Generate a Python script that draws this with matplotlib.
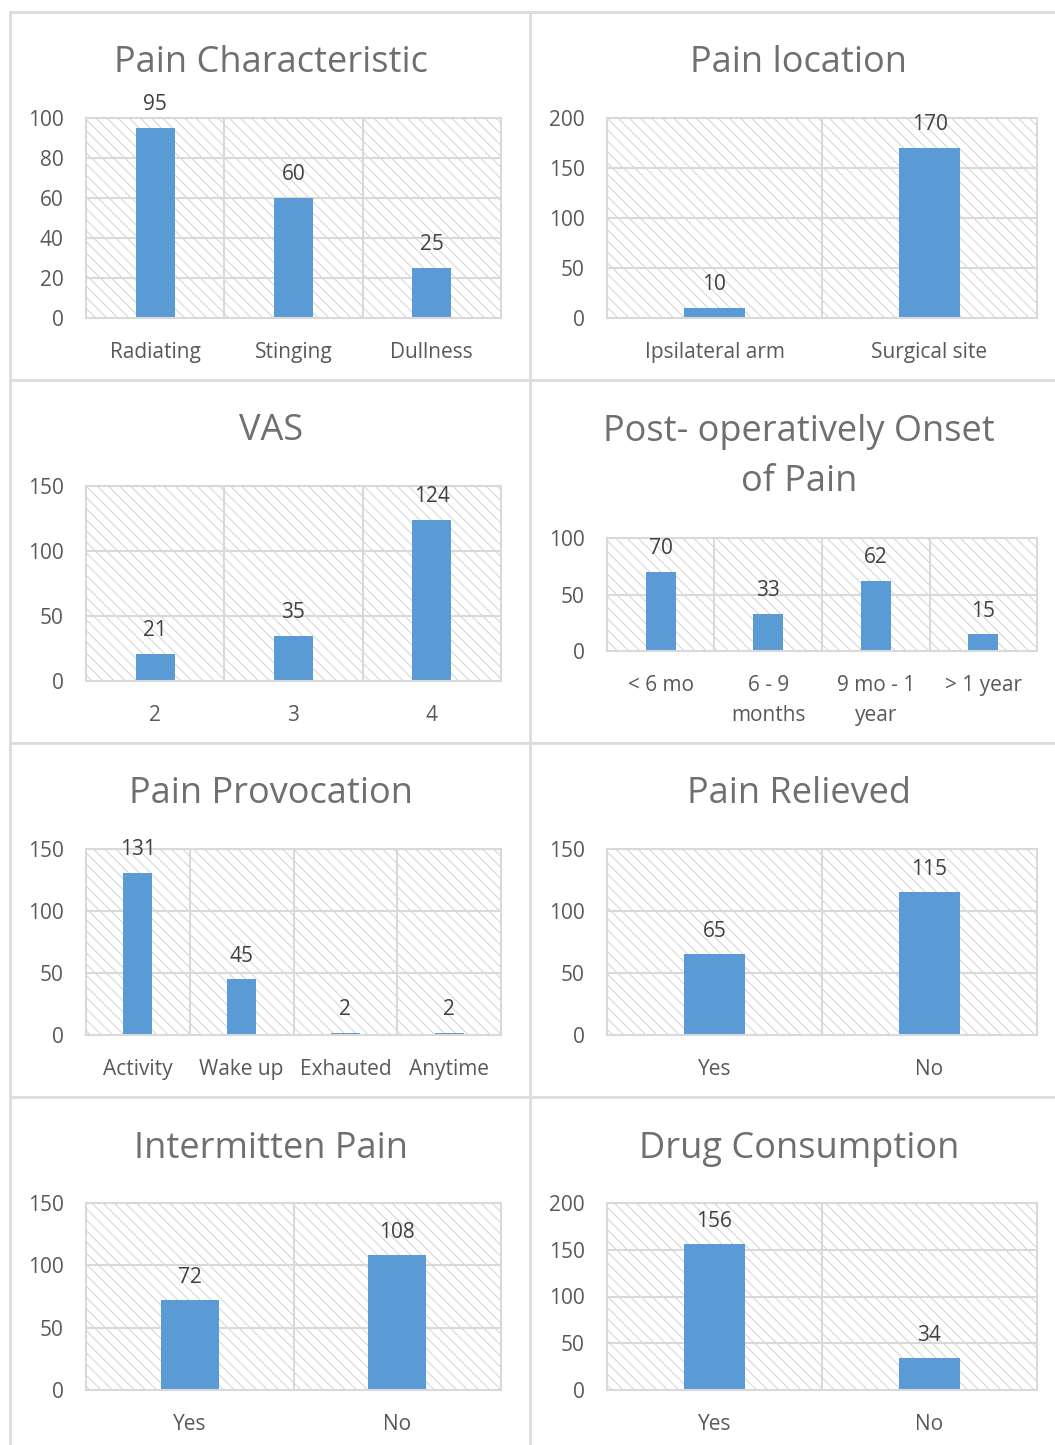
import matplotlib
matplotlib.use("Agg")
import matplotlib.pyplot as plt
from matplotlib.patches import Rectangle
from matplotlib.lines import Line2D
import numpy as np

plt.rcParams['font.family'] = ['Open Sans', 'DejaVu Sans']
plt.rcParams['hatch.linewidth'] = 0.7

# ---- data ----
pc_cats = ["Radiating", "Stinging", "Dullness"]
pc_vals = [95, 60, 25]
loc_cats = ["Ipsilateral arm", "Surgical site"]
loc_vals = [10, 170]
vas_cats = ["2", "3", "4"]
vas_vals = [21, 35, 124]
onset_cats = ["< 6 mo", "6 - 9\nmonths", "9 mo - 1\nyear", "> 1 year"]
onset_vals = [70, 33, 62, 15]
prov_cats = ["Activity", "Wake up", "Exhauted", "Anytime"]
prov_vals = [131, 45, 2, 2]
rel_cats = ["Yes", "No"]
rel_vals = [65, 115]
int_cats = ["Yes", "No"]
int_vals = [72, 108]
drug_cats = ["Yes", "No"]
drug_vals = [156, 34]

W, H = 1055, 1445
fig = plt.figure(figsize=(W / 100, H / 100), dpi=100)

BAR = '#5B9BD5'
GRID = '#d9d9d9'
TICK = '#595959'
LABEL = '#404040'
TITLE = '#6f6f6f'


def px_axes(x0, y0, x1, y1):
    return fig.add_axes([x0 / W, 1 - y1 / H, (x1 - x0) / W, (y1 - y0) / H])


def panel(box, cats, vals, ymax, ystep, title, title_y, title_x):
    ax = px_axes(*box)
    n = len(cats)
    x = np.arange(n)
    ax.set_xlim(-0.5, n - 0.5)
    ax.set_ylim(0, ymax)
    bg = Rectangle((0, 0), 1, 1, transform=ax.transAxes, facecolor='white',
                   edgecolor='#d2d2d2', lw=0, hatch='\\\\\\', zorder=0)
    ax.add_patch(bg)
    for yv in np.arange(ystep, ymax + 1, ystep):
        ax.axhline(yv, color=GRID, lw=1.5, zorder=1)
    for xv in np.arange(0.5, n - 0.5, 1):
        ax.axvline(xv, color=GRID, lw=1.5, zorder=1)
    ax.bar(x, vals, width=0.28, color=BAR, zorder=2)
    for xi, v in zip(x, vals):
        ax.annotate(str(v), (xi, v), xytext=(0, 9), textcoords='offset points',
                    ha='center', va='bottom', fontsize=15, color=LABEL)
    ax.set_xticks(x)
    ax.set_xticklabels(cats, fontsize=15, color=TICK, linespacing=1.6)
    ax.set_yticks(np.arange(0, ymax + 1, ystep))
    ax.set_yticklabels([str(int(t)) for t in np.arange(0, ymax + 1, ystep)],
                       fontsize=15, color=TICK)
    ax.tick_params(length=0)
    ax.tick_params(axis='x', pad=17)
    ax.tick_params(axis='y', pad=16)
    for s in ax.spines.values():
        s.set_color(GRID)
        s.set_linewidth(1.5)
    fig.text(title_x / W, 1 - title_y / H, title, ha='center', va='center',
             fontsize=26, color=TITLE, linespacing=1.55)
    return ax


LX = (86, 501)
RX = (607, 1037)
panel((LX[0], 118, LX[1], 318), pc_cats, pc_vals, 100, 20, "Pain Characteristic", 63, 271)
panel((RX[0], 118, RX[1], 318), loc_cats, loc_vals, 200, 50, "Pain location", 63, 799)
panel((LX[0], 486, LX[1], 681), vas_cats, vas_vals, 150, 50, "VAS", 431, 271)
panel((RX[0], 538, RX[1], 651), onset_cats, onset_vals, 100, 50,
      "Post- operatively Onset\nof Pain", 457, 799)
panel((LX[0], 849, LX[1], 1035), prov_cats, prov_vals, 150, 50, "Pain Provocation", 794, 271)
panel((RX[0], 849, RX[1], 1035), rel_cats, rel_vals, 150, 50, "Pain Relieved", 794, 799)
panel((LX[0], 1203, LX[1], 1390), int_cats, int_vals, 150, 50, "Intermitten Pain", 1149, 271)
panel((RX[0], 1203, RX[1], 1390), drug_cats, drug_vals, 200, 50, "Drug Consumption", 1149, 799)

# panel frame lines
def fline(x0, y0, x1, y1):
    fig.add_artist(Line2D([x0 / W, x1 / W], [1 - y0 / H, 1 - y1 / H],
                          color='#dcdcdc', lw=2, transform=fig.transFigure))

fline(10, 12, 10, H)
fline(530, 12, 530, H)
for yy in (12, 380, 743, 1097):
    fline(10, yy, W, yy)

fig.savefig('out.png', dpi=100, facecolor='white')
